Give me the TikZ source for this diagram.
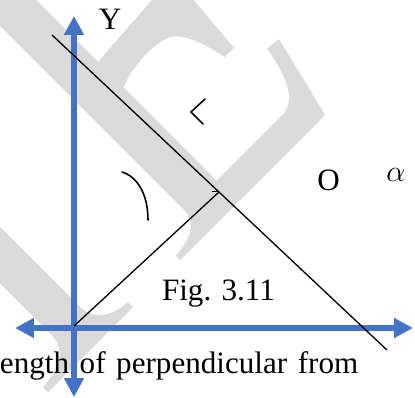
\documentclass[tikz,border=0pt]{standalone}
\usepackage{fontspec}
\setmainfont{Liberation Serif}
\usepackage{tikz}
\usetikzlibrary{arrows.meta, calc}
\definecolor{cAxis}{RGB}{68,114,196}
\definecolor{cMark}{RGB}{218,218,218}
\newcommand{\figfont}{\fontsize{17.7}{21}\selectfont}
\tikzset{
	axisline/.style ={draw=cAxis, line width=0.13cm, {Triangle[length=0.38cm, width=0.38cm]}-{Triangle[length=0.38cm, width=0.38cm]}},
	figline/.style  ={draw=black, line width=0.75pt},
	markline/.style ={draw=black, line width=0.9pt, line cap=round},
	% watermark letters
	wmark/.style    ={fill=cMark, draw=none},
	lbl/.style      ={inner sep=0pt, anchor=base},
}

\begin{document}
\begin{tikzpicture}[x=0.02cm, y=-0.02cm, font=\figfont]
	\useasboundingbox (0,0) rectangle (415,398);
	\clip (0,0) rectangle (415,398);
	% watermark (big grey letters, turned)
	\begin{scope}[shift={(207,233)}, x={(0.014142cm,0.014142cm)}, y={(-0.014142cm,0.014142cm)}]
		\fill[wmark] (-38,0) -- (167,0) -- (188,86) -- (173,88) .. controls (167,55) and (158,32) .. (138,30)
			-- (44,30) -- (44,420) -- (0,420) -- (0,32) .. controls (0,14) and (-18,7) .. (-38,6) -- cycle;
		\fill[wmark] (44,162) .. controls (62,170) and (92,172) .. (110,166) .. controls (124,160) and (132,136) .. (137,112)
			-- (150,112) -- (158,206) -- (44,198) -- cycle;
		\fill[wmark] (-225,0) -- (-105,0) -- (-105,7) .. controls (-128,9) and (-140,18) .. (-142,35)
			-- (-142,420) -- (-182,420) -- (-182,35) .. controls (-184,18) and (-196,9) .. (-225,7) -- cycle;
	\end{scope}
	% axes
	\coordinate (orig) at (74,328);
	\coordinate (ytop) at (74,16);
	\coordinate (ybot) at (74,397);
	\coordinate (xleft) at (15,328);
	\coordinate (xright) at (413,328);
	\draw[axisline] (ybot) -- (ytop);
	\draw[axisline] (xleft) -- (xright);
	% the line and its perpendicular
	\coordinate (lnA) at (52,35);
	\coordinate (lnB) at (387,350);
	\coordinate (foot) at ($(lnA)!0.4985!(lnB)$);
	\coordinate (perp0) at (74,326);
	\draw[figline] (lnA) -- (lnB);
	\draw[figline] (perp0) -- (foot);
	\draw[figline] ($(foot)+(-7,-0.5)$) -- ($(foot)+(0,-0.5)$);
	% angle marks
	\draw[markline] (122,172) .. controls (138,177) and (148,195) .. (148,220);
	\draw[markline] (205,99) -- (191,112) -- (203,124);
	% labels
	\node[lbl] (ylbl) at (110,30) {Y};
	\node[lbl] (olbl) at (328.5,191) {O};
	\node[lbl, font=\fontsize{19}{22}\selectfont] (alphalbl) at (396,182) {$\alpha$};
	\node[lbl] (figcap) at (218.5,300) {Fig. 3.11};
	\node[lbl, anchor=base west] (bodytext) at (-9,373) {\makebox[7.34cm][s]{length of perpendicular from}};
\end{tikzpicture}
\end{document}
